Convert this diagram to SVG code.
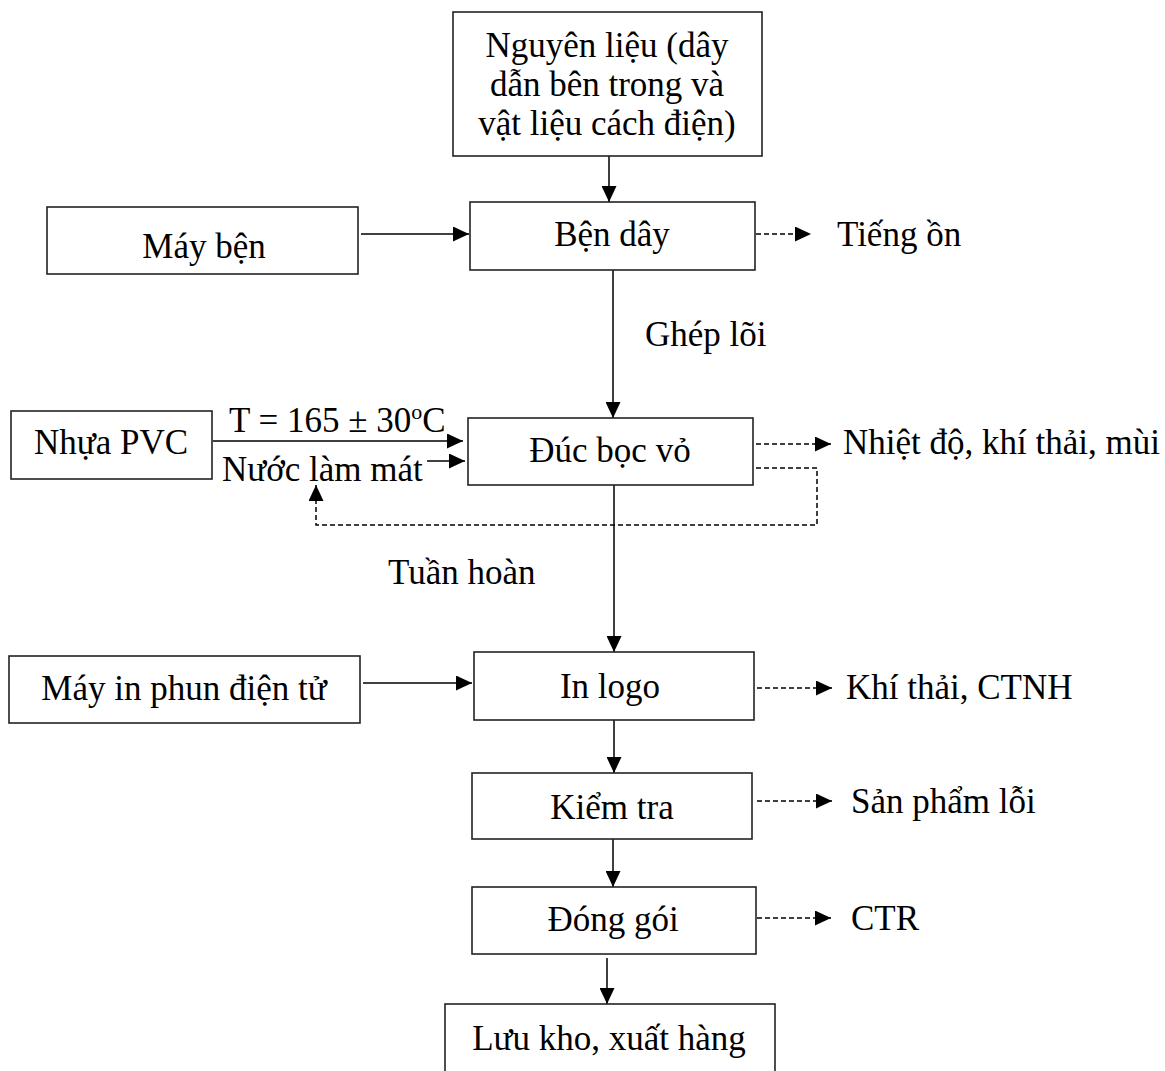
<svg xmlns="http://www.w3.org/2000/svg" width="1165" height="1071" viewBox="0 0 1165 1071">
<style>
.box{fill:#fff;stroke:#222;stroke-width:1.6}
.t{font-family:"Liberation Serif","Times New Roman",serif;font-size:35px;fill:#000}
.c{text-anchor:middle}
.ln{fill:none;stroke:#000;stroke-width:1.5}
.dl{fill:none;stroke:#000;stroke-width:1.5;stroke-dasharray:5 3}
</style>
<defs>
<marker id="ah" markerUnits="userSpaceOnUse" markerWidth="17" markerHeight="15" refX="16" refY="7.5" orient="auto">
<path d="M0,0 L16,7.5 L0,15 z" fill="#000"/>
</marker>
</defs>
<rect width="1165" height="1071" fill="#fff"/>

<g id="connectors">
<line class="ln" x1="609" y1="156" x2="609" y2="202" marker-end="url(#ah)"/>
<line class="ln" x1="361" y1="234" x2="469" y2="234" marker-end="url(#ah)"/>
<line class="dl" x1="756" y1="234" x2="811" y2="234" marker-end="url(#ah)"/>
<line class="ln" x1="613" y1="270" x2="613" y2="418" marker-end="url(#ah)"/>
<line class="ln" x1="213" y1="441" x2="463" y2="441" marker-end="url(#ah)"/>
<line class="ln" x1="427" y1="461" x2="465" y2="461" marker-end="url(#ah)"/>
<line class="dl" x1="756" y1="444" x2="831" y2="444" marker-end="url(#ah)"/>
<polyline class="dl" points="756,468 817,468 817,525 316,525 316,485" marker-end="url(#ah)"/>
<line class="ln" x1="614" y1="485" x2="614" y2="652" marker-end="url(#ah)"/>
<line class="ln" x1="363" y1="683" x2="472" y2="683" marker-end="url(#ah)"/>
<line class="dl" x1="757" y1="688" x2="832" y2="688" marker-end="url(#ah)"/>
<line class="ln" x1="614" y1="720" x2="614" y2="773" marker-end="url(#ah)"/>
<line class="dl" x1="757" y1="801" x2="832" y2="801" marker-end="url(#ah)"/>
<line class="ln" x1="613" y1="839" x2="613" y2="887" marker-end="url(#ah)"/>
<line class="dl" x1="757" y1="918" x2="831" y2="918" marker-end="url(#ah)"/>
<line class="ln" x1="607" y1="958" x2="607" y2="1004" marker-end="url(#ah)"/>
</g>

<g id="nguyen-lieu">
<rect class="box" x="453" y="12" width="309" height="144"/>
<text class="t c" x="607" y="57">Nguyên liệu (dây</text>
<text class="t c" x="607" y="96">dẫn bên trong và</text>
<text class="t c" x="607" y="135">vật liệu cách điện)</text>
</g>

<g id="may-ben">
<rect class="box" x="47" y="207" width="311" height="67"/>
<text class="t c" x="204" y="258">Máy bện</text>
</g>

<g id="ben-day">
<rect class="box" x="470" y="202" width="285" height="68"/>
<text class="t c" x="612" y="246">Bện dây</text>
</g>

<g id="tieng-on">
<text class="t" x="837" y="246">Tiếng ồn</text>
</g>

<g id="ghep-loi">
<text class="t" x="645" y="346">Ghép lõi</text>
</g>

<g id="nhua-pvc">
<rect class="box" x="11" y="411" width="201" height="68"/>
<text class="t c" x="111" y="454">Nhựa PVC</text>
</g>

<g id="labels-pvc">
<text class="t" x="229" y="432">T = 165 ± 30<tspan font-size="22" dy="-13">o</tspan><tspan dy="13">C</tspan></text>
<text class="t" x="222" y="481">Nước làm mát</text>
</g>

<g id="duc-boc-vo">
<rect class="box" x="468" y="418" width="285" height="67"/>
<text class="t c" x="610" y="462">Đúc bọc vỏ</text>
</g>

<g id="nhiet-do">
<text class="t" x="843" y="454">Nhiệt độ, khí thải, mùi</text>
</g>

<g id="tuan-hoan">
<text class="t" x="388" y="584">Tuần hoàn</text>
</g>

<g id="may-in">
<rect class="box" x="9" y="656" width="351" height="67"/>
<text class="t c" x="184" y="700">Máy in phun điện tử</text>
</g>

<g id="in-logo">
<rect class="box" x="474" y="652" width="280" height="68"/>
<text class="t c" x="610" y="698">In logo</text>
</g>

<g id="khi-thai">
<text class="t" x="846" y="699">Khí thải, CTNH</text>
</g>

<g id="kiem-tra">
<rect class="box" x="472" y="773" width="280" height="66"/>
<text class="t c" x="612" y="819">Kiểm tra</text>
</g>

<g id="san-pham-loi">
<text class="t" x="851" y="813">Sản phẩm lỗi</text>
</g>

<g id="dong-goi">
<rect class="box" x="472" y="887" width="284" height="67"/>
<text class="t c" x="613" y="931">Đóng gói</text>
</g>

<g id="ctr">
<text class="t" x="851" y="930">CTR</text>
</g>

<g id="luu-kho">
<rect class="box" x="445" y="1004" width="330" height="80"/>
<text class="t c" x="609" y="1050">Lưu kho, xuất hàng</text>
</g>
</svg>
